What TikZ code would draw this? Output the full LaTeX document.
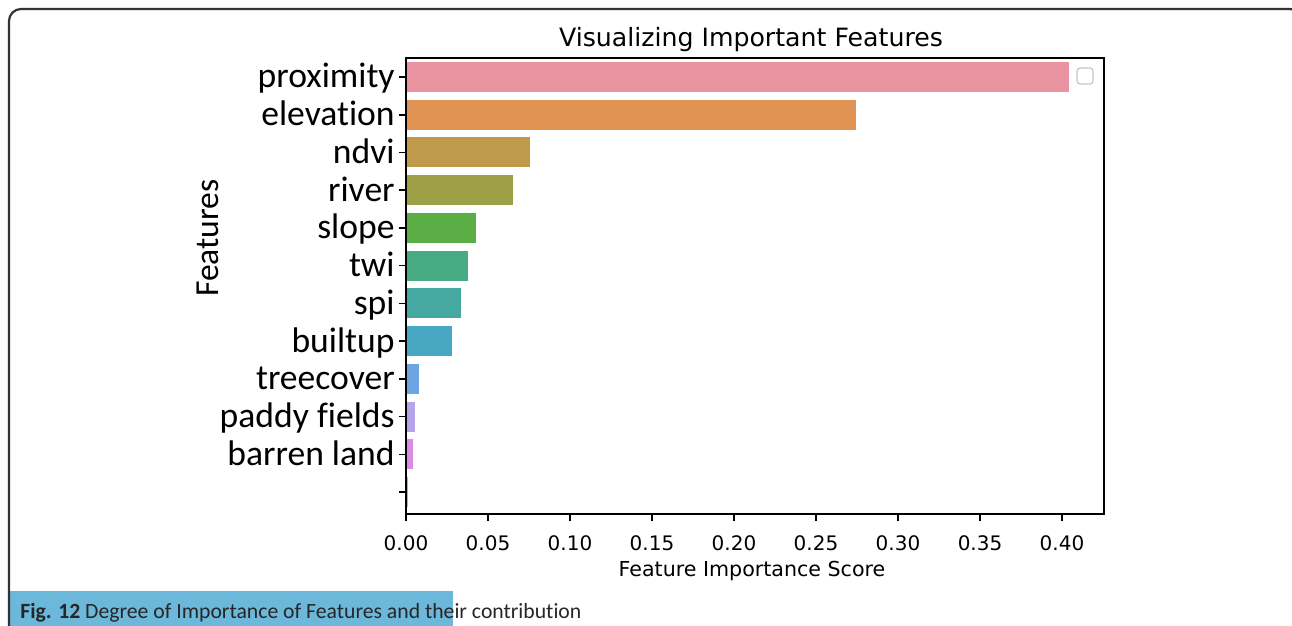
\documentclass[tikz,border=0pt]{standalone}
\usepackage{fontspec}
\setmainfont[RawFeature={-liga;-clig;-calt;-dlig}]{Carlito}
\newfontfamily\plotfont{DejaVu Sans}
\definecolor{capblue}{HTML}{6CB8DA}
\definecolor{framegray}{HTML}{333333}
\definecolor{cA}{HTML}{E8939F}
\definecolor{cB}{HTML}{E09253}
\definecolor{cC}{HTML}{BF9A4B}
\definecolor{cD}{HTML}{9EA047}
\definecolor{cE}{HTML}{5BAE46}
\definecolor{cF}{HTML}{47AC83}
\definecolor{cG}{HTML}{45A9A2}
\definecolor{cH}{HTML}{48A7C3}
\definecolor{cI}{HTML}{6BA6E0}
\definecolor{cJ}{HTML}{B4A4E8}
\definecolor{cK}{HTML}{DA8CE4}
\definecolor{cL}{HTML}{F08CC0}
\begin{document}
\begin{tikzpicture}[x=0.5pt,y=-0.5pt,
  axisline/.style={line width=1pt,black},
  tickline/.style={line width=0.8pt,black},
  ylab/.style={anchor=base east,inner sep=0pt,font=\fontsize{17.8}{20}\selectfont},
  xlab/.style={inner sep=0pt,font=\plotfont\fontsize{10}{12}\selectfont},
  capfont/.style={font=\fontsize{10.85}{13}\selectfont,text=black!85}]
\useasboundingbox (0,0) rectangle (1292,626);

% caption strip
\fill[capblue] (9,591) rectangle (453,640);
\node[capfont,anchor=base west,inner sep=0pt] (caption) at (20,618)
  {\textbf{Fig. 12} Degree of Importance of Features and their contribution};

% outer frame, running off the page at the right and bottom
\begin{scope}
  \clip (0,0) rectangle (1292,626);
  \draw[framegray,line width=1.1pt,rounded corners=6pt] (9,9) rectangle (1302,650);
\end{scope}

% bars: label / score / colour
\foreach \lab/\val/\col [count=\i from 0] in
  {proximity/0.404/cA, elevation/0.2745/cB, ndvi/0.0755/cC, river/0.065/cD,
   slope/0.0425/cE, twi/0.038/cF, spi/0.0335/cG, builtup/0.028/cH,
   treecover/0.008/cI, paddy fields/0.0055/cJ, barren land/0.004/cK, /0.0012/cL}{
  \pgfmathsetmacro{\yc}{77+\i*37.73}
  \pgfmathsetmacro{\xe}{406+\val*1640}
  \fill[\col] (406,\yc-15) rectangle (\xe,\yc+15);
  \draw[tickline] (406,\yc) -- (399,\yc);
  \node[ylab] (ylab\i) at (395,\yc+11) {\lab};
}

% axes box
\draw[axisline] (406,58) rectangle (1104,514);

% empty legend frame
\draw[black!22,line width=0.6pt,rounded corners=1.5pt,fill=white] (1077,68) rectangle (1093,84);

% x ticks
\foreach \v [count=\j from 0] in {0.00,0.05,0.10,0.15,0.20,0.25,0.30,0.35,0.40}{
  \pgfmathsetmacro{\xt}{406+\v*1640}
  \draw[tickline] (\xt,514) -- (\xt,521);
  \node[xlab] (xlab\j) at (\xt,543) {\v};
}

% titles
\node[inner sep=0pt,font=\plotfont\fontsize{12.6}{14}\selectfont] (title) at (751,40) {Visualizing Important Features};
\node[inner sep=0pt,font=\plotfont\fontsize{10.3}{12}\selectfont] (xtitle) at (752,571) {Feature Importance Score};
\node[inner sep=0pt,rotate=90,font=\fontsize{16.8}{18}\selectfont] (ytitle) at (208,238) {Features};
\end{tikzpicture}
\end{document}
